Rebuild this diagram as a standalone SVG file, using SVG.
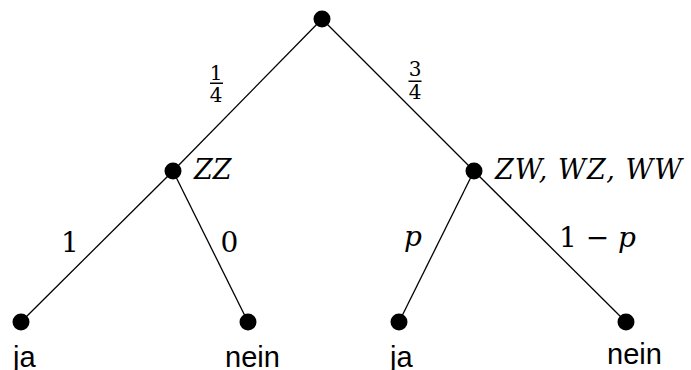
<svg xmlns="http://www.w3.org/2000/svg" width="691" height="370" viewBox="0 0 691 370">
<style>
.edge{stroke:#000;stroke-width:1.3;fill:none}
.dot{fill:#000}
.m{font-family:"DejaVu Serif","Liberation Serif",serif;fill:#000}
.mi{font-family:"DejaVu Serif","Liberation Serif",serif;font-style:italic;fill:#000}
.lbl{font-family:"Liberation Sans",Arial,sans-serif;font-size:29px;fill:#000}
</style>
<rect width="691" height="370" fill="#fff"/>
<g id="connectors">
<line class="edge" x1="322" y1="19" x2="173" y2="171"/>
<line class="edge" x1="322" y1="19" x2="474" y2="171"/>
<line class="edge" x1="173" y1="171" x2="21" y2="322"/>
<line class="edge" x1="173" y1="171" x2="248" y2="322"/>
<line class="edge" x1="474" y1="171" x2="399" y2="322"/>
<line class="edge" x1="474" y1="171" x2="626" y2="322"/>
<g id="edge-labels">
<text class="m" x="216" y="80" font-size="20" text-anchor="middle">1</text>
<rect x="210" y="82.5" width="13" height="1.5" fill="#000"/>
<text class="m" x="216" y="102" font-size="20" text-anchor="middle">4</text>
<text class="m" x="415" y="76" font-size="20" text-anchor="middle">3</text>
<rect x="408.5" y="80.5" width="13" height="1.5" fill="#000"/>
<text class="m" x="415" y="99" font-size="20" text-anchor="middle">4</text>
<text class="m" x="70" y="252" font-size="28" text-anchor="middle">1</text>
<text class="m" x="229.5" y="252" font-size="28" text-anchor="middle">0</text>
<text class="mi" x="404" y="246" font-size="28">p</text>
<text class="m" x="559" y="247" font-size="28">1 − <tspan class="mi">p</tspan></text>
</g>
</g>
<g id="root"><circle class="dot" cx="322" cy="19" r="8.5"/></g>
<g id="zz"><circle class="dot" cx="173" cy="171" r="8.5"/><text class="mi" x="194" y="179" font-size="27">ZZ</text></g>
<g id="zw"><circle class="dot" cx="474" cy="171" r="8.5"/><text class="mi" x="495" y="179" font-size="27" textLength="187">ZW, WZ, WW</text></g>
<g id="leaf1"><circle class="dot" cx="21" cy="322" r="8.5"/><text class="lbl" x="13" y="367">ja</text></g>
<g id="leaf2"><circle class="dot" cx="248" cy="322" r="8.5"/><text class="lbl" x="225" y="367">nein</text></g>
<g id="leaf3"><circle class="dot" cx="399" cy="322" r="8.5"/><text class="lbl" x="390" y="367">ja</text></g>
<g id="leaf4"><circle class="dot" cx="626" cy="322" r="8.5"/><text class="lbl" x="607" y="364">nein</text></g>
</svg>
